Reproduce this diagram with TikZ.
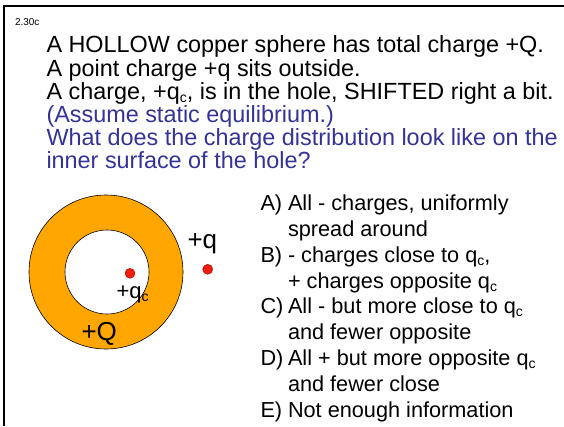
\documentclass[tikz,border=0pt]{standalone}
\usepackage{fontspec}
\setmainfont{Liberation Sans}
\definecolor{qblue}{RGB}{51,51,153}
\definecolor{shell}{RGB}{255,166,0}
\definecolor{dotred}{RGB}{240,30,10}
\newcommand{\subc}{\raisebox{-3.4pt}{\fontsize{14}{14}\selectfont c}}
\tikzset{
  txt/.style={inner sep=0pt, outer sep=0pt, anchor=base west},
  bigtxt/.style={txt, font=\fontsize{23.4}{23.4}\selectfont},
  bluetxt/.style={bigtxt, text=qblue},
  anstxt/.style={txt, font=\fontsize{21.7}{21.7}\selectfont},
  chargedot/.style={circle, fill=dotred, draw=red!60!black, line width=0.4pt, minimum size=10pt, inner sep=0pt},
}
\begin{document}
\begin{tikzpicture}[x=1pt,y=-1pt]
\useasboundingbox (0,0) rectangle (564,426);
\fill[white] (0,0) rectangle (564,426);
% frame
\coordinate (fb) at (3.7,426);
\coordinate (fc) at (3.7,5.8);
\coordinate (fr) at (564,5.8);
\draw[line width=2pt] (fb) -- (fc) -- (fr);
% id
\node[txt, font=\fontsize{10}{10}\selectfont] (id) at (15,25) {2.30c};
% question
\node[bigtxt] (l1) at (46.5,52.7) {A HOLLOW copper sphere has total charge +Q.};
\node[bigtxt] (l2) at (46.5,76) {A point charge +q sits outside.};
\node[bigtxt] (l3) at (46.5,99.2) {A charge, +q\subc, is in the hole, SHIFTED right a bit.};
\node[bluetxt] (l4) at (46.5,122.4) {(Assume static equilibrium.)};
\node[bluetxt] (l5) at (46.5,145.6) {What does the charge distribution look like on the};
\node[bluetxt] (l6) at (46.5,168.8) {inner surface of the hole?};
% shell
\fill[shell, draw=black, line width=0.6pt] (106,272) circle (77);
\fill[white, draw=black, line width=0.6pt] (107,272) circle (42);
\node[chargedot] (qc) at (130,273.3) {};
\node[chargedot] (q) at (207.7,269.3) {};
\node[txt, font=\fontsize{26}{26}\selectfont] (ql) at (187.5,248) {+q};
\node[txt, font=\fontsize{22}{22}\selectfont] (qcl) at (116.5,298.5) {+q\subc};
\node[txt, font=\fontsize{26}{26}\selectfont] (Ql) at (81.5,340.5) {+Q};
% answers
\node[anstxt] (aA) at (260.5,210) {A)};
\node[anstxt] (tA1) at (288,210) {All - charges, uniformly};
\node[anstxt] (tA2) at (288,236) {spread around};
\node[anstxt] (aB) at (260.5,262) {B)};
\node[anstxt] (tB1) at (288,262) {- charges close to q\subc,};
\node[anstxt] (tB2) at (288,288) {+ charges opposite q\subc};
\node[anstxt] (aC) at (260.5,313.5) {C)};
\node[anstxt] (tC1) at (288,313.5) {All - but more close to q\subc};
\node[anstxt] (tC2) at (288,339.5) {and fewer opposite};
\node[anstxt] (aD) at (260.5,365.5) {D)};
\node[anstxt] (tD1) at (288,365.5) {All + but more opposite q\subc};
\node[anstxt] (tD2) at (288,391.5) {and fewer close};
\node[anstxt] (aE) at (260.5,417.5) {E)};
\node[anstxt] (tE1) at (288,417.5) {Not enough information};
\end{tikzpicture}
\end{document}
